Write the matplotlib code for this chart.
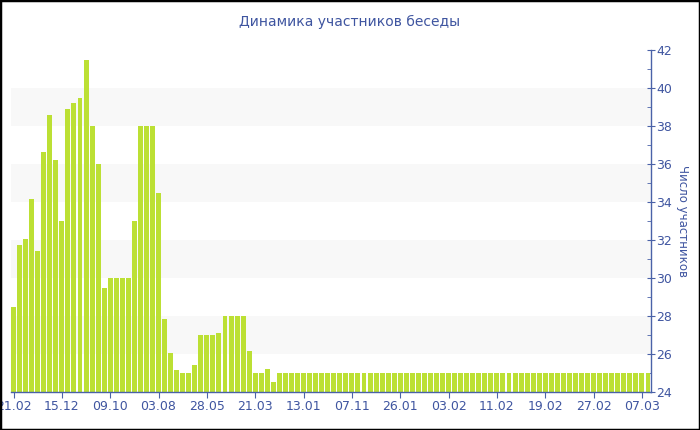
import matplotlib
matplotlib.use("Agg")
import matplotlib.pyplot as plt
from matplotlib.patches import Rectangle
from matplotlib.ticker import MultipleLocator

title = "Динамика участников беседы"
y_label = "Число участников"

values = [28.5, 31.75, 32.05, 34.15, 31.4, 36.65, 38.6, 36.2, 33.0, 38.9,
          39.2, 39.5, 41.45, 38.0, 36.0, 29.45, 30, 30, 30, 30,
          33, 38, 38, 38, 34.45, 27.85, 26.05, 25.15, 25, 25,
          25.4, 27, 27, 27, 27.1, 28, 28, 28, 28, 26.15,
          25, 25, 25.2, 24.55] + [25] * 62

tick_labels = ["21.02", "15.12", "09.10", "03.08", "28.05", "21.03", "13.01",
               "07.11", "26.01", "03.02", "11.02", "19.02", "27.02", "07.03"]
tick_step = 8

bar_color = "#BCE034"
band_color = "#F8F8F8"
axis_color = "#4A62A8"
text_color = "#3F55A0"

fig = plt.figure(figsize=(7, 4.3), dpi=100)
ax = fig.add_axes([10.5 / 700, 38 / 430, 640.5 / 700, 342 / 430])

for lo in (26, 30, 34, 38):
    ax.axhspan(lo, lo + 2, color=band_color, zorder=0, lw=0)

x = list(range(len(values)))
ax.bar(x, values, width=0.82, color=bar_color, zorder=2, linewidth=0)

ax.set_xlim(-0.5, len(values) - 0.5)
ax.set_ylim(24, 42)

ax.set_xticks(x[::tick_step])
ax.set_xticklabels(tick_labels)

ax.yaxis.tick_right()
ax.yaxis.set_label_position("right")
ax.yaxis.set_major_locator(MultipleLocator(2))
ax.yaxis.set_minor_locator(MultipleLocator(1))

for s in ("left", "top"):
    ax.spines[s].set_visible(False)
for s in ("right", "bottom"):
    ax.spines[s].set_color(axis_color)
    ax.spines[s].set_linewidth(1)

ax.tick_params(axis="x", colors=axis_color, labelcolor=text_color, labelsize=9,
               length=4, direction="out", pad=2)
ax.tick_params(axis="y", which="major", colors=axis_color, labelcolor=text_color,
               labelsize=9, length=6, direction="inout", pad=1)
ax.tick_params(axis="y", which="minor", colors=axis_color, length=3, direction="in")

ax.set_ylabel(y_label, rotation=270, color=text_color, fontsize=8.5, labelpad=12)

fig.text(0.5, 1 - 22 / 430, title, ha="center", va="center",
         color=text_color, fontsize=10)

fig.patches.append(Rectangle((0, 0), 1, 1, transform=fig.transFigure,
                             fill=False, edgecolor="black", linewidth=2.5,
                             zorder=10))

fig.savefig("out.png", dpi=100)
